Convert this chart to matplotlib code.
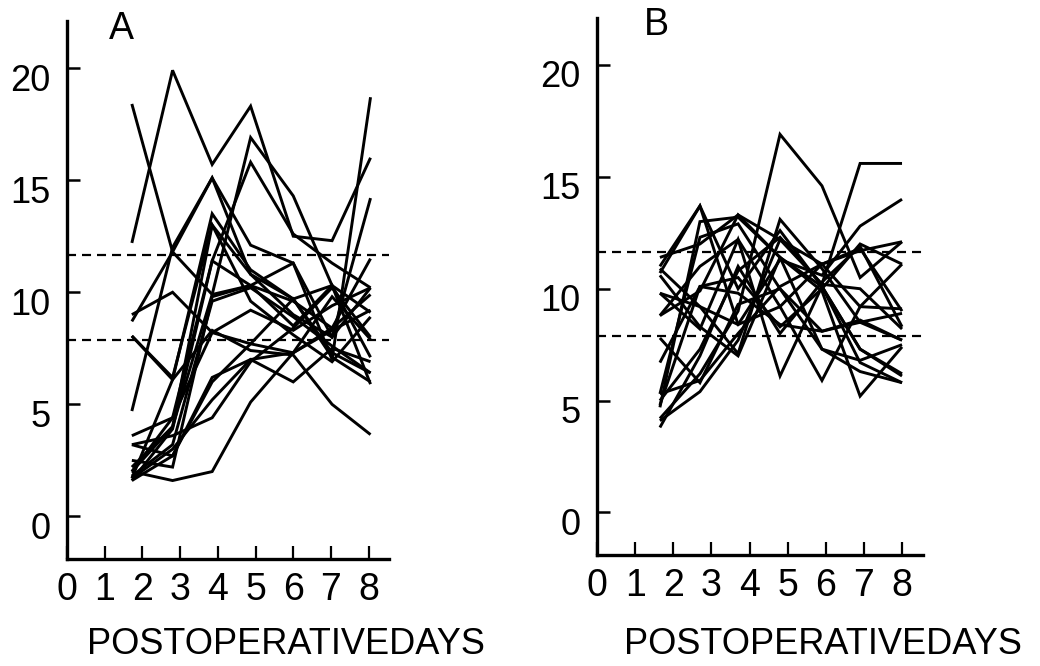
import matplotlib
matplotlib.use("Agg")
import matplotlib.pyplot as plt
from matplotlib import font_manager
from matplotlib.transforms import ScaledTranslation

# ---------------- data ----------------
days_A = [1.72, 2.8, 3.85, 4.87, 6.0, 7.03, 8.05]
days_B = [1.65, 2.7, 3.7, 4.8, 5.9, 6.9, 8.0]

series_A = [
    [12.2, 19.9, 15.7, 18.3, 12.5, 12.3, 16.0],
    [18.4, 11.8, 9.9, 10.3, 9.6, 8.4, 9.9],
    [2.0, 4.0, 9.9, 16.9, 14.3, 10.3, 9.1],
    [1.6, 3.9, 11.4, 15.8, 12.6, 11.3, 10.2],
    [8.7, 11.8, 15.1, 12.1, 11.3, 7.0, 18.7],
    [4.7, 12.0, 15.1, 10.8, 9.7, 10.3, 7.1],
    [9.0, 10.0, 8.2, 7.7, 7.3, 8.3, 9.2],
    [8.05, 6.2, 13.0, 9.6, 8.1, 6.9, 8.9],
    [1.7, 6.1, 13.5, 11.0, 9.7, 7.3, 6.4],
    [3.6, 4.4, 11.4, 10.3, 8.5, 10.3, 5.9],
    [3.2, 2.7, 6.2, 7.0, 7.3, 9.8, 7.9],
    [2.5, 2.2, 9.8, 10.3, 11.3, 8.0, 10.2],
    [2.0, 1.6, 2.0, 5.1, 7.3, 8.4, 11.5],
    [1.7, 3.0, 5.2, 7.0, 6.0, 7.5, 6.9],
    [2.0, 4.4, 8.2, 9.2, 8.3, 9.4, 10.2],
    [3.2, 3.6, 4.4, 6.9, 8.4, 10.2, 8.0],
    [1.6, 2.7, 6.0, 7.7, 9.7, 7.1, 6.0],
    [8.05, 6.1, 8.3, 7.4, 7.2, 5.0, 3.65],
    [2.2, 4.0, 13.0, 10.8, 9.0, 8.0, 14.2],
    [1.8, 3.2, 9.6, 10.2, 8.9, 7.6, 6.4],
]

series_B = [
    [4.2, 6.2, 9.0, 16.9, 14.6, 10.5, 12.1],
    [5.0, 7.3, 10.8, 12.3, 10.2, 15.6, 15.6],
    [9.8, 9.2, 8.4, 11.3, 10.6, 12.8, 14.0],
    [11.4, 12.0, 13.3, 12.2, 11.1, 11.7, 12.1],
    [10.7, 13.7, 10.0, 12.6, 10.1, 7.3, 6.1],
    [4.7, 13.0, 13.2, 11.4, 10.1, 6.7, 5.8],
    [10.9, 9.2, 7.1, 13.1, 10.9, 8.5, 7.7],
    [8.8, 11.0, 12.2, 9.2, 11.1, 9.2, 9.1],
    [7.8, 5.8, 9.3, 10.0, 7.3, 6.8, 7.5],
    [6.7, 10.1, 10.5, 8.3, 10.0, 12.0, 11.1],
    [5.3, 12.3, 12.9, 10.0, 8.1, 8.5, 8.9],
    [3.8, 7.0, 11.0, 8.0, 10.3, 11.9, 8.3],
    [4.1, 5.4, 7.7, 12.2, 10.2, 10.0, 8.2],
    [9.8, 8.2, 12.2, 6.1, 10.1, 7.3, 6.2],
    [11.0, 13.7, 8.4, 9.2, 5.9, 9.2, 11.1],
    [10.6, 8.3, 7.0, 11.4, 9.9, 5.2, 7.4],
    [4.8, 10.1, 9.8, 8.4, 8.1, 8.6, 7.7],
    [8.8, 9.9, 13.3, 11.4, 7.3, 6.3, 5.8],
    [5.3, 5.9, 8.0, 10.1, 11.1, 11.8, 9.0],
]

norm_low, norm_high = 7.88, 11.65
yticks = [0, 5, 10, 15, 20]
xticks = [0, 1, 2, 3, 4, 5, 6, 7, 8]
panel_labels = ["A", "B"]
xlabel_text = "POSTOPERATIVEDAYS"

# ---------------- fonts ----------------
avail = {f.name for f in font_manager.fontManager.ttflist}
main_font = "Liberation Sans" if "Liberation Sans" in avail else "DejaVu Sans"
plt.rcParams["font.family"] = [main_font, "DejaVu Sans"]
plt.rcParams["lines.scale_dashes"] = False

W, H = 1040, 666
fig = plt.figure(figsize=(W / 100, H / 100), dpi=100)
fig.patch.set_facecolor("white")

# pixel boxes: (left, right, top, bottom)
boxes = [(67, 389, 21, 559), (597, 923, 18, 555)]
xlims = [8.54, 8.55]
panel_pos = [(121, 39), (656, 35)]
xlabel_pos = [(286, 654), (823, 654)]

all_days = [days_A, days_B]
all_series = [series_A, series_B]

for i, (box, days, series, lab) in enumerate(zip(boxes, all_days, all_series, panel_labels)):
    l, r, t, b = box
    ax = fig.add_axes([l / W, (H - b) / H, (r - l) / W, (b - t) / H])
    for s in series:
        ax.plot(days, s, color="black", lw=2.1, solid_joinstyle="miter",
                solid_capstyle="butt")
    for yv in (norm_low, norm_high):
        ax.axhline(yv, color="black", lw=1.6, dashes=(6.5, 4.3))
    ax.set_xlim(0, xlims[i])
    ax.set_ylim(-1.9, 22.1)
    ax.spines["top"].set_visible(False)
    ax.spines["right"].set_visible(False)
    ax.spines["left"].set_linewidth(2.4)
    ax.spines["bottom"].set_linewidth(2.4)
    ax.set_yticks(yticks)
    ax.set_yticklabels([str(v) for v in yticks], fontsize=26, family=main_font)
    ax.set_xticks(xticks)
    ax.set_xticklabels([str(v) for v in xticks], fontsize=27, family=main_font)
    ax.tick_params(axis="y", direction="in", length=9.5, width=1.8, pad=12)
    ax.tick_params(axis="x", direction="in", length=9.5, width=1.6, pad=9)
    off = ScaledTranslation(0, -0.09, fig.dpi_scale_trans)
    for tl in ax.get_yticklabels():
        tl.set_transform(tl.get_transform() + off)
    fig.text(panel_pos[i][0] / W, 1 - panel_pos[i][1] / H, lab, fontsize=27,
             ha="center", va="baseline", family=main_font)
    fig.text(xlabel_pos[i][0] / W, 1 - xlabel_pos[i][1] / H, xlabel_text,
             fontsize=26, ha="center", va="baseline", family=main_font)

fig.savefig("out.png", dpi=100, facecolor="white")
